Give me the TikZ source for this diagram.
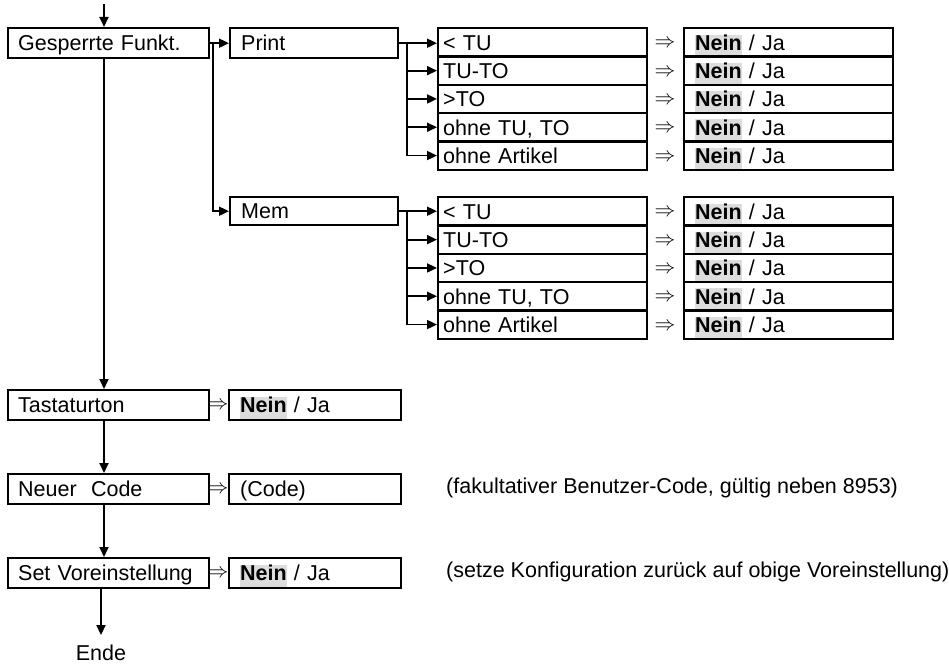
\documentclass[tikz,border=0pt]{standalone}
\usepackage{fontspec}
\setmainfont{Liberation Sans}
\usetikzlibrary{arrows.meta}
\definecolor{hlgray}{RGB}{221,221,221}
\newcommand{\hlnein}[2]{{\setlength{\fboxsep}{0pt}\colorbox{hlgray}{\rule[-#2pt]{0pt}{#1pt}\textbf{Nein}}}}
\begin{document}
\begin{tikzpicture}[x=1pt,y=-1pt,
  font=\fontsize{21.5}{25}\selectfont,
  bx/.style={draw, line width=2.4pt, anchor=north west, align=left, inner ysep=0pt,
    text height=15.5pt, text depth=0pt},
  mainbox/.style={bx, minimum height=30pt, text width=181pt, inner xsep=10pt},
  subbox/.style={bx, minimum height=#1, text width=146pt, inner xsep=11pt},
  itembox/.style={bx, minimum height=28.3pt, text width=199pt, inner xsep=5pt},
  neinbox/.style={bx, minimum height=28.3pt, text width=187pt, inner xsep=11pt},
  valbox/.style={bx, minimum height=30pt, text width=150pt, inner xsep=11pt},
  impl/.style={inner sep=0pt},
  note/.style={anchor=west, inner sep=0pt},
  arr/.style={line width=1.8pt, -{Triangle[length=10pt,width=9pt]}},
  ln/.style={line width=1.8pt}
]
\useasboundingbox (0,0) rectangle (949,666);

% main column
\node[mainbox] (G) at (7,27) {Gesperrte Funkt.};
\node[mainbox] (T) at (7,389) {Tastaturton};
\node[mainbox] (N) at (7,473) {Neuer\ \ Code};
\node[mainbox] (S) at (7,557) {Set Voreinstellung};
\node[inner sep=10pt, text height=15.5pt, text depth=0pt] (E) at (101,653) {Ende};

% values of main column
\node[valbox] (TV) at (228,389) {\hlnein{21.6}{6.2} / Ja};
\node[valbox] (NV) at (228,473) {(Code)};
\node[valbox] (SV) at (228,557) {\hlnein{21.6}{6.2} / Ja};
\node[impl] (TI) at (218,406) {$\Rightarrow$};
\node[impl] (NI) at (218,490) {$\Rightarrow$};
\node[impl] (SI) at (218,574) {$\Rightarrow$};

\node[note] (n1) at (446,488) {(fakultativer Benutzer-Code, gültig neben 8953)};
\node[note] (n2) at (446,572) {(setze Konfiguration zurück auf obige Voreinstellung)};

% submenus
\node[subbox=30pt] (P) at (229,27) {Print};
\node[subbox=28pt] (M) at (229,196) {Mem};

\foreach [count=\i] \t in {{< TU},{TU-TO},{>TO},{ohne TU, TO},{ohne Artikel}} {
  \node[itembox] (pi\i) at (437,{27+(\i-1)*28.3}) {\t};
  \node[neinbox] (pn\i) at (683,{27+(\i-1)*28.3}) {\hlnein{20.75}{5.35} / Ja};
  \node[impl] (pa\i) at (665,{44+(\i-1)*28.3}) {$\Rightarrow$};
  \node[itembox] (mi\i) at (437,{196+(\i-1)*28.3}) {\t};
  \node[neinbox] (mn\i) at (683,{196+(\i-1)*28.3}) {\hlnein{20.75}{5.35} / Ja};
  \node[impl] (ma\i) at (665,{213+(\i-1)*28.3}) {$\Rightarrow$};
}

% connectors
\coordinate (top) at (104,4);
\draw[arr] (top) -- (top |- G.north);
\draw[arr] (G.south -| top) -- (T.north -| top);
\draw[arr] (T.south -| top) -- (N.north -| top);
\draw[arr] (N.south -| top) -- (S.north -| top);
\draw[arr] (S.south -| E.north) -- (E.north);

\draw[arr] (G.east) -- (P.west);
\coordinate (gb) at (213,42);
\draw[arr] (gb) |- (M.west);

\coordinate (pb) at (407,42);
\draw[arr] (P.east) -- (pi1.west |- P.east);
\foreach \i in {2,...,5} {\draw[arr] (pb) |- (pi\i.west);}

\coordinate (mb) at (407,210);
\draw[arr] (M.east) -- (mi1.west |- M.east);
\foreach \i in {2,...,5} {\draw[arr] (mb) |- (mi\i.west);}
\end{tikzpicture}
\end{document}
